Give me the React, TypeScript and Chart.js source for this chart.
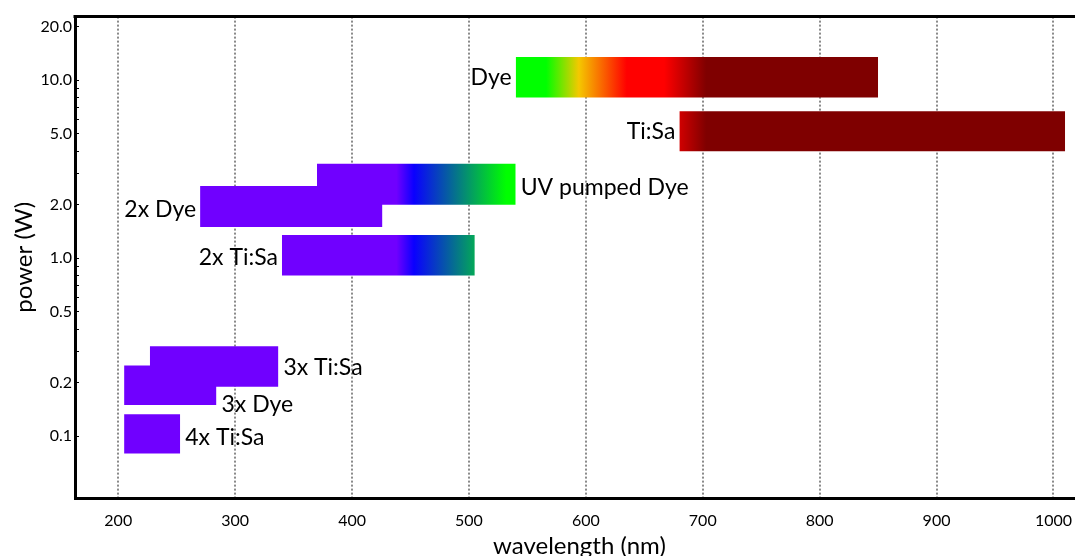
import React, { useEffect, useRef } from 'react';
import { Chart, registerables } from 'chart.js';

Chart.register(...registerables);

// ---- data ----
const sourceNames = ['Dye', 'Ti:Sa', 'UV pumped Dye', '2x Dye', '2x Ti:Sa', '3x Ti:Sa', '3x Dye', '4x Ti:Sa'];
const wavelengthMin = [540, 680, 370, 270, 340, 227, 205, 205];
const wavelengthMax = [850, 1010, 540, 426, 505, 337, 284, 253];
const powerLow = [8.0, 4.0, 2.0, 1.5, 0.8, 0.19, 0.15, 0.08];
const powerHigh = [13.5, 6.7, 3.4, 2.55, 1.35, 0.32, 0.25, 0.133];
const labelSide = ['before', 'before', 'after', 'before', 'before', 'after', 'after', 'after'];
const labelPower = [10.4, 5.17, 2.5, 1.88, 1.01, 0.244, 0.151, 0.0987];

const xTicks = [200, 300, 400, 500, 600, 700, 800, 900, 1000];
const yTicks = [0.1, 0.2, 0.3, 0.4, 0.5, 0.6, 0.7, 0.8, 0.9, 1, 2, 3, 4, 5, 6, 7, 8, 9, 10, 20];
const yLabelled = [0.1, 0.2, 0.5, 1, 2, 5, 10, 20];

const spectrumNm = [438, 453, 532, 566, 594, 635, 667, 703];
const spectrumColors = ['#7000ff', '#0a00ff', '#00ff00', '#00ff00', '#f4c800', '#ff0000', '#ff0000', '#7f0000'];

const FONT = 'Lato';
const W = 1085;
const H = 570;

function spectrumFill(ctx: any) {
  const chart = ctx.chart;
  const x = chart.scales?.x;
  if (!chart.chartArea || !x) return spectrumColors[0];
  const lo = spectrumNm[0];
  const hi = spectrumNm[spectrumNm.length - 1];
  const g = chart.ctx.createLinearGradient(x.getPixelForValue(lo), 0, x.getPixelForValue(hi), 0);
  spectrumNm.forEach((nm, i) => g.addColorStop((nm - lo) / (hi - lo), spectrumColors[i]));
  return g;
}

const labelsPlugin = {
  id: 'sourceLabels',
  afterDatasetsDraw(chart: any) {
    const { ctx, scales } = chart;
    const x = scales.x;
    const y = scales.y;
    ctx.save();
    ctx.font = `23px ${FONT}`;
    ctx.fillStyle = '#000';
    ctx.textBaseline = 'middle';
    sourceNames.forEach((name, i) => {
      const after = labelSide[i] === 'after';
      const px = after ? x.getPixelForValue(wavelengthMax[i]) + 5 : x.getPixelForValue(wavelengthMin[i]) - 4;
      ctx.textAlign = after ? 'left' : 'right';
      ctx.fillText(name, px, y.getPixelForValue(labelPower[i]));
    });
    ctx.restore();
  },
};

const frameTopPlugin = {
  id: 'frameTop',
  afterDraw(chart: any) {
    const { ctx, chartArea } = chart;
    ctx.save();
    ctx.strokeStyle = '#000';
    ctx.lineWidth = 3;
    ctx.beginPath();
    ctx.moveTo(chartArea.left - 1.5, chartArea.top);
    ctx.lineTo(chartArea.right, chartArea.top);
    ctx.stroke();
    ctx.restore();
  },
};

export default function App() {
  const ref = useRef<HTMLCanvasElement | null>(null);

  useEffect(() => {
    if (!ref.current) return;
    const datasets = sourceNames.map((name, i) => ({
      label: name,
      data: [
        { x: wavelengthMin[i], y: powerHigh[i] },
        { x: wavelengthMax[i], y: powerHigh[i] },
      ],
      fill: { value: powerLow[i] },
      backgroundColor: spectrumFill,
      borderWidth: 0,
      borderColor: 'rgba(0,0,0,0)',
      pointRadius: 0,
      pointHoverRadius: 0,
      tension: 0,
    }));

    const chart = new Chart(ref.current, {
      type: 'line',
      data: { datasets },
      plugins: [labelsPlugin, frameTopPlugin],
      options: {
        animation: false,
        responsive: false,
        devicePixelRatio: 1,
        layout: { padding: { top: 16, left: 0, right: 0, bottom: 0 } },
        plugins: { legend: { display: false }, tooltip: { enabled: false } },
        events: [],
        scales: {
          x: {
            type: 'linear',
            min: 163,
            max: 1026,
            afterBuildTicks: (s: any) => {
              s.ticks = xTicks.map((v) => ({ value: v }));
            },
            afterFit: (s: any) => {
              s.height = H - 498;
            },
            grid: {
              display: true,
              drawOnChartArea: true,
              drawTicks: false,
              color: '#8a8a8a',
              lineWidth: 2,
            },
            border: { display: true, color: '#000', width: 3, dash: [2, 2] },
            ticks: {
              autoSkip: false,
              maxRotation: 0,
              padding: 13,
              color: '#000',
              font: { family: FONT, size: 16 },
              callback: (v: any) => String(v),
            },
            title: {
              display: true,
              text: 'wavelength (nm)',
              color: '#000',
              font: { family: FONT, size: 24 },
              padding: { top: 0, bottom: 9.6 },
            },
          },
          y: {
            type: 'logarithmic',
            min: 0.045,
            max: 22.8,
            afterBuildTicks: (s: any) => {
              s.ticks = yTicks.map((v) => ({ value: v, major: yLabelled.includes(v) }));
            },
            afterFit: (s: any) => {
              s.width = 75;
            },
            grid: {
              display: true,
              drawOnChartArea: false,
              drawTicks: true,
              tickLength: -4,
              tickColor: '#000',
              tickWidth: 1,
            },
            border: { display: true, color: '#000', width: 3 },
            ticks: {
              autoSkip: false,
              padding: 7,
              color: '#000',
              font: { family: FONT, size: 16 },
              callback: (v: any) => (yLabelled.includes(Number(v)) ? Number(v).toFixed(1) : ''),
            },
            title: {
              display: true,
              text: 'power (W)',
              color: '#000',
              font: { family: FONT, size: 24 },
              padding: { top: 9.6, bottom: 0 },
            },
          },
        },
      },
    } as any);

    return () => chart.destroy();
  }, []);

  return (
    <div style={{ position: 'fixed', left: 0, top: 0, width: 1075, height: 556, overflow: 'hidden', background: '#fff' }}>
      <canvas ref={ref} width={W} height={H} style={{ width: W, height: H, display: 'block' }} />
    </div>
  );
}
